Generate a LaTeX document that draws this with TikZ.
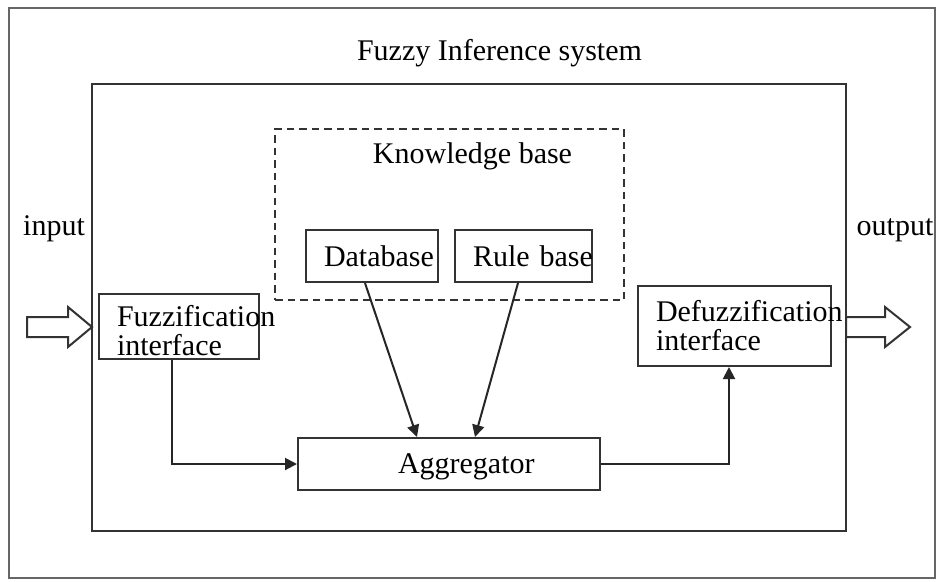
\documentclass[tikz,border=0pt]{standalone}
\usepackage{fontspec}
\setmainfont{Liberation Serif}
\usepackage{tikz}
\usetikzlibrary{arrows.meta,positioning}
\tikzstyle{block} = [rectangle, draw=black!80, line width=0.8pt, align=left, inner xsep=7.2pt, inner ysep=0pt, font=\fontsize{12}{11}\selectfont]
\tikzstyle{frame} = [rectangle, draw=black!80, line width=0.8pt, inner sep=0pt]
\tikzstyle{label} = [font=\fontsize{12}{11}\selectfont, inner sep=0pt]
\tikzstyle{arrow} = [line width=0.8pt, draw=black!85, ->, >={Triangle[length=4.8pt,width=4.8pt]}]
\tikzstyle{hollow} = [line width=0.8pt, draw=black!80, fill=white]

\begin{document}
\begin{tikzpicture}[x=0.4pt, y=-0.4pt]
\useasboundingbox (0,0) rectangle (938,581);
% outer frame and title
\draw[draw=black!60, line width=0.8pt] (9,8) rectangle (935,578);
\node (title) [label, anchor=base] at (499.5,60) {Fuzzy Inference system};
\node (fis) [frame, minimum width=301.6pt, minimum height=178.8pt] at (469,307.5) {};
\node (kb) [frame, dashed, dash pattern=on 3pt off 2pt, minimum width=139.6pt, minimum height=68.4pt] at (449.5,214.5) {};
\node (kbtext) [label, anchor=base] at (472.5,163) {Knowledge base};
% blocks
\node (db) [block, text width=38.4pt, minimum width=52.8pt, minimum height=20.8pt] at (372,256) {\mbox{Database}};
\node (rb) [block, text width=40.4pt, minimum width=54.8pt, minimum height=20.8pt] at (523.5,256) {\mbox{Rule base}};
\node (fuz) [block, text width=49.6pt, minimum width=64pt, minimum height=26pt] at (179,326.5) {\rule{0pt}{12pt}\mbox{Fuzzification}\\[0.5pt]interface};
\node (defuz) [block, text width=62.8pt, minimum width=77.2pt, minimum height=32pt] at (734.5,326) {\mbox{Defuzzification}\\[0.6pt]interface};
\node (agg) [block, inner xsep=40pt, text width=40.8pt, minimum width=120.8pt, minimum height=20.8pt] at (449,464) {\rule{0pt}{10.5pt}\mbox{Aggregator}};
% input / output
\node (in) [label, anchor=base] at (54,235) {input};
\node (out) [label, anchor=base] at (895,235) {output};
\draw[hollow] (27,317) -- (68,317) -- (68,307) -- (92,327) -- (68,347) -- (68,337) -- (27,337) -- cycle;
\draw[hollow] (846,317) -- (885,317) -- (885,307) -- (910,327) -- (885,347) -- (885,337) -- (846,337) -- cycle;
% connectors
\draw [arrow] ([xshift=-2.8pt]db.south) -- ([xshift=-12.8pt]agg.north);
\draw [arrow] ([xshift=-2.2pt]rb.south) -- ([xshift=10.4pt]agg.north);
\draw [arrow] ([xshift=-2.8pt]fuz.south) |- (agg.west);
\draw [arrow] (agg.east) -| ([xshift=-2.2pt]defuz.south);
\end{tikzpicture}
\end{document}
